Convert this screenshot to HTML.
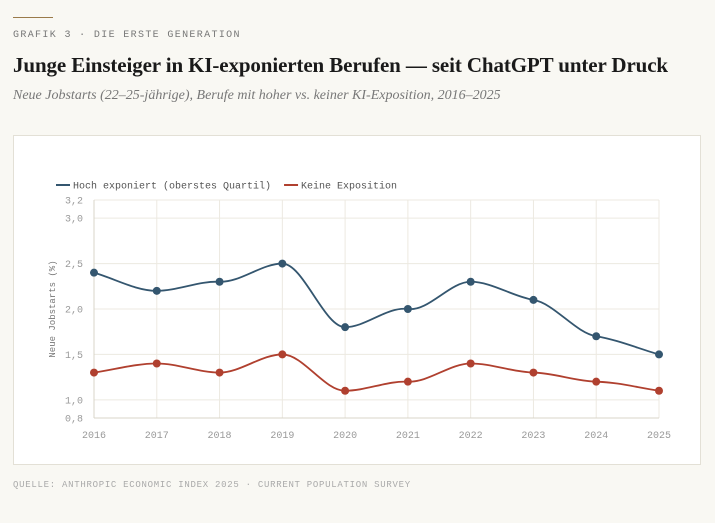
<!DOCTYPE html>
<html><head><meta charset="utf-8"><style>
body{margin:0;width:715px;height:523px;background:#f9f8f3;font-family:"Liberation Serif",serif;overflow:hidden;position:relative}
.rule{position:absolute;left:13px;top:17px;width:40px;height:1px;background:#9a7a4a}
.kick{position:absolute;left:13px;top:30px;font:10px "Liberation Mono",monospace;letter-spacing:1.35px;color:#777}
h1{position:absolute;left:13px;top:53px;margin:0;font:bold 21px "Liberation Serif",serif;letter-spacing:-0.12px;color:#1a1a1a;white-space:nowrap}
.sub{position:absolute;left:13px;top:88px;font:italic 14px "Liberation Serif",serif;color:#777;white-space:nowrap}
.card{position:absolute;left:13px;top:135px;width:686px;height:328px;background:#fff;border:1px solid #e3e0d6}
.src{position:absolute;left:13px;top:480px;font:9px "Liberation Mono",monospace;letter-spacing:0.72px;color:#aaa}
</style></head><body>
<div class="rule"></div>
<div class="kick">GRAFIK 3 · DIE ERSTE GENERATION</div>
<h1>Junge Einsteiger in KI-exponierten Berufen — seit ChatGPT unter Druck</h1>
<div class="sub">Neue Jobstarts (22–25-jährige), Berufe mit hoher vs. keiner KI-Exposition, 2016–2025</div>
<div class="card"></div>
<svg id="chart" width="715" height="523" style="position:absolute;left:0;top:0"></svg>
<div class="src">QUELLE: ANTHROPIC ECONOMIC INDEX 2025 · CURRENT POPULATION SURVEY</div>
<script>
const years=[2016,2017,2018,2019,2020,2021,2022,2023,2024,2025];
const highExposure=[2.4,2.2,2.3,2.5,1.8,2.0,2.3,2.1,1.7,1.5];
const noExposure=[1.3,1.4,1.3,1.5,1.1,1.2,1.4,1.3,1.2,1.1];
const yTicks=[0.8,1.0,1.5,2.0,2.5,3.0,3.2];
const seriesNames=["Hoch exponiert (oberstes Quartil)","Keine Exposition"];
const colors=["#34566f","#b0402f"];
const NS="http://www.w3.org/2000/svg";
const svg=document.getElementById('chart');
const X0=94,X1=659,Y0=418,Y1=200,ymin=0.8,ymax=3.2;
const x=i=>X0+(X1-X0)*i/(years.length-1);
const y=v=>Y0-(v-ymin)/(ymax-ymin)*(Y0-Y1);
function el(t,a){const e=document.createElementNS(NS,t);for(const k in a)e.setAttribute(k,a[k]);svg.appendChild(e);return e;}
yTicks.forEach(v=>{
 const g=el('line',{x1:X0,x2:X1,y1:y(v),y2:y(v),stroke:'#ece9e1','stroke-width':1});
 
 const t=el('text',{x:83,y:y(v)+3.5,'text-anchor':'end','font-family':'Liberation Mono, monospace','font-size':10,fill:'#999'});
 t.textContent=v.toFixed(1).replace('.',',');
 
});
years.forEach((yr,i)=>{
 const g=el('line',{x1:x(i),x2:x(i),y1:Y1,y2:Y0,stroke:'#ece9e1','stroke-width':1});
 
 const t=el('text',{x:x(i),y:438,'text-anchor':'middle','font-family':'Liberation Mono, monospace','font-size':10,fill:'#999'});
 t.textContent=yr;
 
});
const ax=el('line',{x1:X0,x2:X0,y1:Y1,y2:Y0,stroke:'#d8d4c8'});

const bx=el('line',{x1:X0,x2:X1,y1:Y0,y2:Y0,stroke:'#d8d4c8'});

const yt=el('text',{transform:'translate(55,309) rotate(-90)','text-anchor':'middle','font-family':'Liberation Mono, monospace','font-size':9,fill:'#777'});
yt.textContent='Neue Jobstarts (%)';

function monotone(pts){
 const n=pts.length,d=[],m=[];
 for(let i=0;i<n-1;i++)d.push((pts[i+1][1]-pts[i][1])/(pts[i+1][0]-pts[i][0]));
 for(let i=0;i<n;i++){
  if(i==0)m.push(d[0]);else if(i==n-1)m.push(d[n-2]);
  else m.push(d[i-1]*d[i]<=0?0:(3*(d[i-1]+d[i]))/ (2*(1/d[i-1]+1/d[i]))/1.5);
 }
 let p=`M${pts[0][0]},${pts[0][1]}`;
 for(let i=0;i<n-1;i++){const h=(pts[i+1][0]-pts[i][0])/3;
  p+=`C${pts[i][0]+h},${pts[i][1]+m[i]*h} ${pts[i+1][0]-h},${pts[i+1][1]-m[i+1]*h} ${pts[i+1][0]},${pts[i+1][1]}`;}
 return p;
}
[highExposure,noExposure].forEach((s,k)=>{
 const pts=s.map((v,i)=>[x(i),y(v)]);
 const p=el('path',{d:monotone(pts),fill:'none',stroke:colors[k],'stroke-width':1.8});
 
 pts.forEach(q=>{const c=el('circle',{cx:q[0],cy:q[1],r:4,fill:colors[k]});
  });
});
let lx=56;
seriesNames.forEach((nm,k)=>{
 const l=el('line',{x1:lx,x2:lx+14,y1:185,y2:185,stroke:colors[k],'stroke-width':2});
 
 const t=el('text',{x:lx+17,y:188.5,'font-family':'Liberation Mono, monospace','font-size':10,fill:'#555'});
 t.textContent=nm;
 
 lx+=17+t.getComputedTextLength()+13;
});
</script>
</body></html>
